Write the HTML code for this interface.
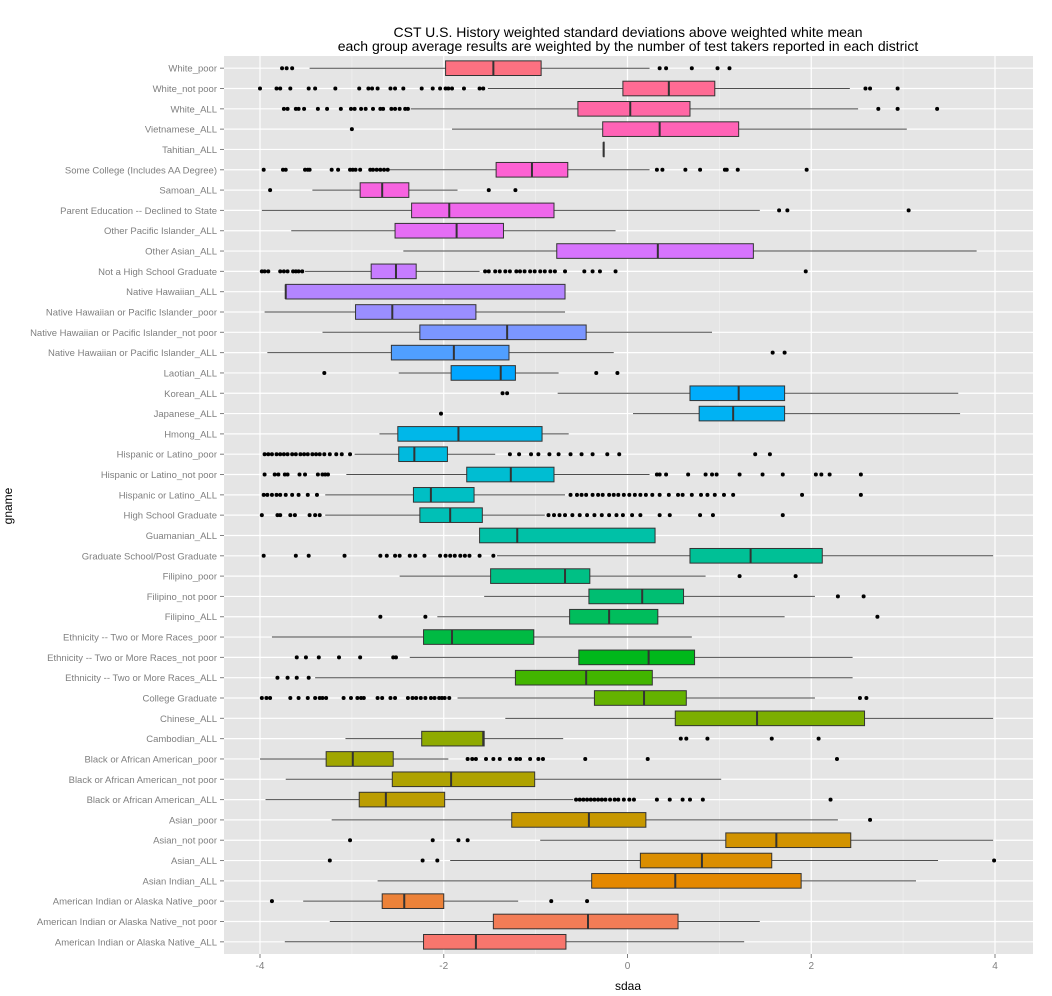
<!DOCTYPE html>
<html><head><meta charset="utf-8"><style>
body{margin:0;background:#fff}
svg{display:block;font-family:"Liberation Sans",sans-serif}
</style></head><body>
<svg id="chart" width="1052" height="996" viewBox="0 0 1052 996" xmlns="http://www.w3.org/2000/svg">
<text x="628" y="37" font-size="14" text-anchor="middle" fill="#000">CST U.S. History weighted standard deviations above weighted white mean</text>
<text x="628" y="51" font-size="14" text-anchor="middle" fill="#000">each group average results are weighted by the number of test takers reported in each district</text>
<rect x="224" y="56" width="809" height="898" fill="#E5E5E5"/>
<g id="grid"></g><g id="marks"></g><g id="axes"></g>
<text x="628" y="990" font-size="12" text-anchor="middle" fill="#000">sdaa</text>
<text x="0" y="0" font-size="12" text-anchor="middle" fill="#000" transform="translate(12,506) rotate(-90)">gname</text>
</svg>
<script>
const categories=["White_poor","White_not poor","White_ALL","Vietnamese_ALL","Tahitian_ALL","Some College (Includes AA Degree)","Samoan_ALL","Parent Education -- Declined to State","Other Pacific Islander_ALL","Other Asian_ALL","Not a High School Graduate","Native Hawaiian_ALL","Native Hawaiian or Pacific Islander_poor","Native Hawaiian or Pacific Islander_not poor","Native Hawaiian or Pacific Islander_ALL","Laotian_ALL","Korean_ALL","Japanese_ALL","Hmong_ALL","Hispanic or Latino_poor","Hispanic or Latino_not poor","Hispanic or Latino_ALL","High School Graduate","Guamanian_ALL","Graduate School/Post Graduate","Filipino_poor","Filipino_not poor","Filipino_ALL","Ethnicity -- Two or More Races_poor","Ethnicity -- Two or More Races_not poor","Ethnicity -- Two or More Races_ALL","College Graduate","Chinese_ALL","Cambodian_ALL","Black or African American_poor","Black or African American_not poor","Black or African American_ALL","Asian_poor","Asian_not poor","Asian_ALL","Asian Indian_ALL","American Indian or Alaska Native_poor","American Indian or Alaska Native_not poor","American Indian or Alaska Native_ALL"];
const lowerWhisker=[-3.46,-1.52,-2.36,-1.91,-0.26,-2.60,-3.43,-3.98,-3.66,-2.44,-3.51,-3.72,-3.95,-3.32,-3.92,-2.49,-0.76,0.06,-2.70,-2.97,-3.06,-3.29,-3.29,-1.61,-1.42,-2.48,-1.56,-2.07,-3.87,-2.37,-3.40,-1.85,-1.33,-3.07,-4.00,-3.72,-3.94,-3.22,-0.95,-1.93,-2.72,-3.53,-3.24,-3.73];
const q1=[-1.98,-0.05,-0.54,-0.27,-0.26,-1.43,-2.91,-2.35,-2.53,-0.77,-2.79,-3.72,-2.96,-2.26,-2.57,-1.92,0.68,0.78,-2.50,-2.49,-1.75,-2.33,-2.26,-1.61,0.68,-1.49,-0.42,-0.63,-2.22,-0.53,-1.22,-0.36,0.52,-2.24,-3.28,-2.56,-2.92,-1.26,1.07,0.14,-0.39,-2.67,-1.46,-2.22];
const medians=[-1.46,0.45,0.03,0.35,-0.26,-1.04,-2.67,-1.94,-1.86,0.33,-2.52,-3.72,-2.56,-1.31,-1.89,-1.38,1.21,1.15,-1.84,-2.32,-1.27,-2.14,-1.93,-1.20,1.34,-0.68,0.16,-0.20,-1.91,0.23,-0.45,0.18,1.41,-1.57,-2.99,-1.92,-2.63,-0.42,1.62,0.81,0.52,-2.43,-0.43,-1.65];
const q3=[-0.94,0.95,0.68,1.21,-0.26,-0.65,-2.38,-0.80,-1.35,1.37,-2.30,-0.68,-1.65,-0.45,-1.29,-1.22,1.71,1.71,-0.93,-1.96,-0.80,-1.67,-1.58,0.30,2.12,-0.41,0.61,0.33,-1.02,0.73,0.27,0.64,2.58,-1.56,-2.55,-1.01,-1.99,0.20,2.43,1.57,1.89,-2.00,0.55,-0.67];
const upperWhisker=[0.24,2.42,2.51,3.04,-0.26,0.24,-1.85,1.44,-0.13,3.80,-1.61,-0.68,-0.68,0.92,-0.15,-0.75,3.60,3.62,-0.64,-1.44,0.24,-0.68,-0.90,0.30,3.98,0.85,2.04,1.71,0.70,2.45,2.45,2.04,3.98,-0.70,-1.95,1.02,-0.59,2.29,3.98,3.38,3.14,-1.19,1.44,1.27];
const outliers=[
[-3.76,-3.71,-3.65,0.35,0.42,0.70,0.98,1.11],
[-4.0,-3.82,-3.78,-3.67,-3.47,-3.40,-3.18,-2.92,-2.82,-2.78,-2.72,-2.58,-2.53,-2.44,-2.24,-2.12,-2.04,-1.98,-1.95,-1.91,-1.78,-1.61,-1.57,2.59,2.64,2.94],
[-3.74,-3.70,-3.61,-3.58,-3.52,-3.37,-3.27,-3.12,-3.01,-2.97,-2.90,-2.85,-2.77,-2.69,-2.66,-2.57,-2.53,-2.48,-2.42,-2.39,2.73,2.94,3.37],
[-3.0],[],
[-3.96,-3.75,-3.72,-3.51,-3.48,-3.46,-3.22,-3.15,-3.02,-2.99,-2.96,-2.91,-2.80,-2.77,-2.73,-2.69,-2.65,-2.61,0.32,0.38,0.63,0.79,1.06,1.08,1.20,1.95],
[-3.89,-1.51,-1.22],
[1.65,1.74,3.06],[],[],
[-3.98,-3.95,-3.91,-3.78,-3.74,-3.70,-3.64,-3.61,-3.58,-3.54,-1.55,-1.51,-1.44,-1.39,-1.33,-1.28,-1.21,-1.17,-1.12,-1.06,-1.01,-0.95,-0.90,-0.84,-0.79,-0.68,-0.47,-0.38,-0.30,-0.13,1.94],
[],[],[],
[1.58,1.71],
[-3.30,-0.34,-0.11],
[-1.36,-1.31],
[-2.03],[],
[-3.95,-3.91,-3.87,-3.82,-3.78,-3.74,-3.70,-3.65,-3.61,-3.56,-3.52,-3.48,-3.43,-3.39,-3.35,-3.30,-3.24,-3.17,-3.11,-3.02,-1.28,-1.18,-1.05,-0.97,-0.85,-0.75,-0.62,-0.50,-0.38,-0.22,-0.09,1.39,1.55],
[-3.95,-3.84,-3.80,-3.73,-3.70,-3.57,-3.51,-3.37,-3.32,-3.29,-3.26,0.32,0.35,0.42,0.66,0.85,0.92,0.97,1.22,1.47,1.69,2.05,2.11,2.20,2.54],
[-3.96,-3.92,-3.87,-3.82,-3.78,-3.72,-3.65,-3.58,-3.48,-3.38,-0.62,-0.55,-0.50,-0.45,-0.38,-0.32,-0.27,-0.2,-0.15,-0.1,-0.04,0.02,0.08,0.14,0.2,0.27,0.35,0.45,0.55,0.6,0.7,0.8,0.87,0.95,1.05,1.15,1.9,2.54],
[-3.98,-3.81,-3.78,-3.67,-3.62,-3.46,-3.40,-3.35,-0.86,-0.8,-0.74,-0.68,-0.6,-0.52,-0.44,-0.36,-0.28,-0.2,-0.12,-0.05,0.05,0.14,0.35,0.46,0.79,0.93,1.69],
[],
[-3.96,-3.61,-3.47,-3.08,-2.69,-2.62,-2.53,-2.48,-2.37,-2.31,-2.21,-2.04,-1.98,-1.93,-1.88,-1.82,-1.77,-1.72,-1.61,-1.46],
[1.22,1.83],
[2.29,2.57],
[-2.69,-2.20,2.72],
[],
[-3.60,-3.50,-3.36,-3.14,-2.91,-2.55,-2.52],
[-3.81,-3.70,-3.60,-3.47],
[-3.98,-3.93,-3.89,-3.67,-3.58,-3.48,-3.40,-3.35,-3.32,-3.28,-3.09,-3.01,-2.94,-2.90,-2.87,-2.72,-2.67,-2.58,-2.53,-2.39,-2.34,-2.30,-2.25,-2.20,-2.14,-2.10,-2.05,-2.02,-1.99,-1.94,2.53,2.60],
[],
[0.58,0.64,0.87,1.57,2.08],
[-1.74,-1.69,-1.65,-1.54,-1.46,-1.39,-1.28,-1.21,-1.17,-1.06,-0.97,-0.92,-0.46,0.22,2.28],
[],
[-0.56,-0.52,-0.48,-0.44,-0.4,-0.36,-0.32,-0.28,-0.24,-0.19,-0.14,-0.1,-0.04,0.02,0.07,0.32,0.46,0.6,0.68,0.82,2.21],
[2.64],
[-3.02,-2.12,-1.84,-1.74],
[-3.24,-2.23,-2.07,3.99],
[],
[-3.87,-0.83,-0.44],
[],[]
];
const xTicks=[-4,-2,0,2,4];
const xMinor=[-3,-1,1,3];

const NS="http://www.w3.org/2000/svg";
const PL=224,PR=1033,PT=56,PB=954;
const x=v=>627.5+v*91.875;
const n=categories.length;
const step=(PB-PT)/(n-1+1.2);
const y=i=>PT+step*(i+0.6);
function mk(tag,attrs,parent){const e=document.createElementNS(NS,tag);for(const k in attrs)e.setAttribute(k,attrs[k]);parent.appendChild(e);return e;}
function hcl(h){const L=65,C=100;const Y=Math.pow((L+16)/116,3);const hr=h*Math.PI/180;const u=C*Math.cos(hr),v=C*Math.sin(hr);
const up=u/(13*L)+0.1978,vp=v/(13*L)+0.4683;const X=Y*9*up/(4*vp),Z=Y*(12-3*up-20*vp)/(4*vp);
let r=3.2406*X-1.5372*Y-0.4986*Z,g=-0.9689*X+1.8758*Y+0.0415*Z,b=0.0557*X-0.2040*Y+1.0570*Z;
const gm=c=>{c=c<=0.0031308?12.92*c:1.055*Math.pow(c,1/2.4)-0.055;return Math.round(Math.max(0,Math.min(1,c))*255);};
return `rgb(${gm(r)},${gm(g)},${gm(b)})`;}
const grid=document.getElementById('grid'),marks=document.getElementById('marks'),axes=document.getElementById('axes');
xMinor.forEach(t=>{const l=mk('line',{x1:x(t),x2:x(t),y1:PT,y2:PB,stroke:'#F2F2F2','stroke-width':0.6},grid);

});
xTicks.forEach(t=>{const l=mk('line',{x1:x(t),x2:x(t),y1:PT,y2:PB,stroke:'#fff','stroke-width':1.2},grid);


const tk=mk('line',{x1:x(t),x2:x(t),y1:PB,y2:PB+4,stroke:'#7f7f7f'},axes);


const tx=mk('text',{x:x(t),y:PB+15,'font-size':10,'text-anchor':'middle',fill:'#7f7f7f'},axes);tx.textContent=t;

});
categories.forEach((c,i)=>{const yy=y(i);
const gl=mk('line',{x1:PL,x2:PR,y1:yy,y2:yy,stroke:'#fff','stroke-width':1.2},grid);


const tk=mk('line',{x1:PL-4,x2:PL,y1:yy,y2:yy,stroke:'#7f7f7f'},axes);


const tx=mk('text',{x:PL-7,y:yy+3.5,'font-size':9.5,'text-anchor':'end',fill:'#7f7f7f'},axes);tx.textContent=c;


const g=mk('g',{},marks);


const col=hcl(15+(n-1-i)*360/n);
const w=mk('line',{x1:x(lowerWhisker[i]),x2:x(upperWhisker[i]),y1:yy,y2:yy,stroke:'#4d4d4d','stroke-width':1},g);


const h=step*0.72;
const b=mk('rect',{x:x(q1[i]),y:yy-h/2,width:Math.max(0.5,x(q3[i])-x(q1[i])),height:h,fill:col,stroke:'#333','stroke-width':1},g);


const m=mk('line',{x1:x(medians[i]),x2:x(medians[i]),y1:yy-h/2,y2:yy+h/2,stroke:'#333','stroke-width':2},g);


outliers[i].forEach(o=>{const d=mk('circle',{cx:x(o),cy:yy,r:2,fill:'#000'},g);

});
});
</script>
</body></html>
